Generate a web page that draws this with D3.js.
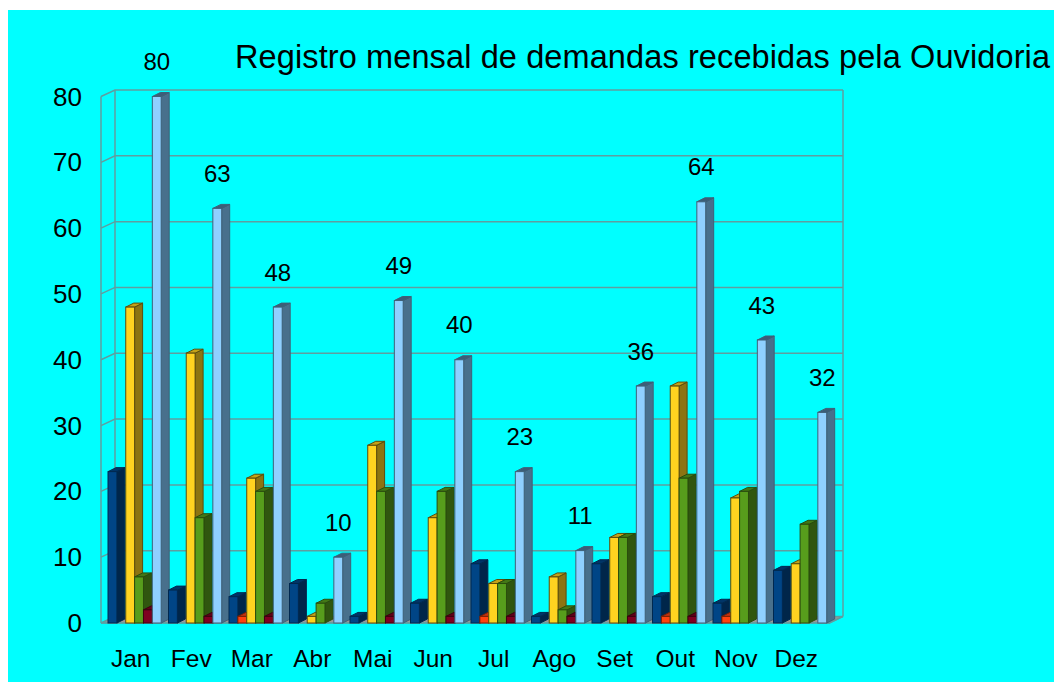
<!DOCTYPE html>
<html><head><meta charset="utf-8">
<script src="https://cdn.jsdelivr.net/npm/d3@7"></script>
<style>html,body{margin:0;padding:0;background:#fff;overflow:hidden}svg{display:block}text{font-family:"Liberation Sans",Arial,sans-serif;fill:#000}</style>
</head><body><div id="c"></div>
<script>
const months=["Jan","Fev","Mar","Abr","Mai","Jun","Jul","Ago","Set","Out","Nov","Dez"];
const s1=[23,5,4,6,1,3,9,1,9,4,3,8];
const s2=[0,0,1,0,0,0,1,0,0,1,1,0];
const s3=[48,41,22,1,27,16,6,7,13,36,19,9];
const s4=[7,16,20,3,20,20,6,2,13,22,20,15];
const s5=[2,1,1,0,1,1,1,1,1,1,0,0];
const s6=[80,63,48,10,49,40,23,11,36,64,43,32];
const seriesVals=[s1,s2,s3,s4,s5,s6];
const fronts=["#004586","#ff420e","#ffd320","#579d1c","#7e0021","#8fd0ff"];
const sides=["#00264a","#8c2408","#8c7412","#30560f","#450012","#48708c"];
const tops=["#003567","#c43210","#c4a218","#437816","#610019","#3c5e78"];
const strokes=["#00284f","#7a2006","#5c4c0c","#2a4c0d","#3d0010","#3f6078"];
const yTicks=[0,10,20,30,40,50,60,70,80];
const title="Registro mensal de demandas recebidas pela Ouvidoria";

const W=1054,H=682,dx=14,dy=6.5,bdx=8,bdy=4;
const svg=d3.select("#c").append("svg").attr("width",W).attr("height",H);
svg.append("rect").attr("x",8).attr("y",10).attr("width",W-8).attr("height",H-10).attr("fill","#00ffff");

const x=d3.scaleBand().domain(months).range([101,827]);
const y=d3.scaleLinear().domain([0,80]).range([623,96.5]);
const sub=d3.scaleBand().domain(d3.range(6)).range([7,60.2]);
const grid="#5f9ea0";

svg.append("polygon").attr("fill","#999").attr("stroke",grid)
 .attr("points",[[101,623],[830,623],[843,623-dy],[101+dx,623-dy]].join(" "));
const g=svg.append("g").attr("fill","none").attr("stroke",grid).attr("stroke-width",1.5);
yTicks.forEach(v=>{
  const yy=y(v);
  g.append("path").attr("d",`M101,${yy}L${101+dx},${yy-dy}H843`);
});
g.append("path").attr("d",`M${101+dx},${y(0)-dy}V${y(80)-dy}`);
g.append("path").attr("d",`M843,${y(0)-dy}V${y(80)-dy}`);
g.append("path").attr("d",`M843,${y(0)-dy}L829,${y(0)}`);
g.append("path").attr("d",`M101,${y(0)}V${y(80)}`);
g.append("path").attr("d",`M101,${y(0)}H830`);

const bars=svg.append("g").attr("stroke-width",1);
months.forEach((m,i)=>{
  seriesVals.forEach((vals,k)=>{
    const v=vals[i];
    if(v<=0) return;
    const x0=x(m)+sub(k),w=sub.bandwidth(),yt=y(v),yb=y(0);
    const line=strokes[k];
    bars.append("polygon").attr("fill",sides[k]).attr("stroke",line)
      .attr("points",[[x0+w,yt],[x0+w+bdx,yt-bdy],[x0+w+bdx,yb-bdy],[x0+w,yb]].join(" "));
    bars.append("polygon").attr("fill",tops[k]).attr("stroke",line)
      .attr("points",[[x0,yt],[x0+bdx,yt-bdy],[x0+w+bdx,yt-bdy],[x0+w,yt]].join(" "));
    bars.append("rect").attr("x",x0).attr("y",yt).attr("width",w).attr("height",yb-yt)
      .attr("fill",fronts[k]).attr("stroke",line);
  });
});

const labels=svg.append("g").attr("text-anchor","middle");
months.forEach((m,i)=>{
  labels.append("text").attr("font-size",24).attr("x",x(m)+sub(5)+sub.bandwidth()/2).attr("y",y(s6[i])-26.5).text(s6[i]);
  labels.append("text").attr("font-size",24.5).attr("x",x(m)+x.bandwidth()/2-0.5).attr("y",667).text(m);
});
yTicks.forEach(v=>{
  svg.append("text").attr("x",82).attr("y",y(v)+9).attr("text-anchor","end").attr("font-size",26).text(v);
});
svg.append("text").attr("x",235).attr("y",68).attr("font-size",32.5).attr("textLength",815).attr("lengthAdjust","spacing").text(title);
</script></body></html>
